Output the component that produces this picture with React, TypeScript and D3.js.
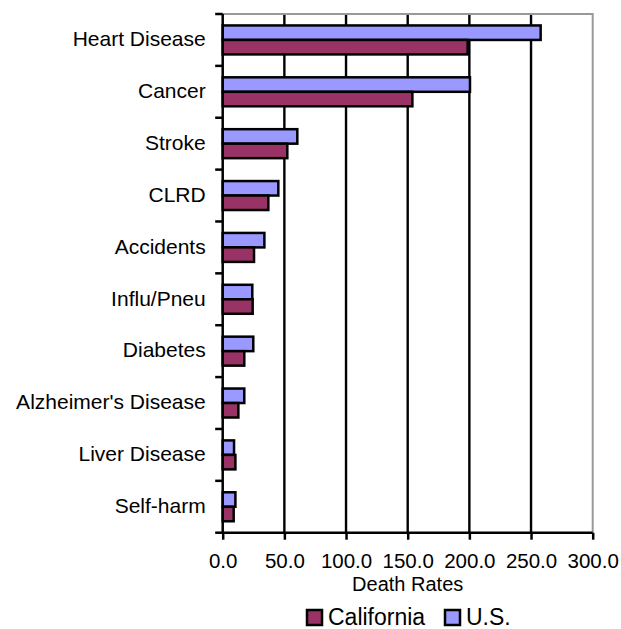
import React, { useEffect, useRef } from 'react';
import * as d3 from 'd3';

const categories = [
  'Heart Disease', 'Cancer', 'Stroke', 'CLRD', 'Accidents',
  'Influ/Pneu', 'Diabetes', "Alzheimer's Disease", 'Liver Disease', 'Self-harm',
];
const california = [198.6, 153.8, 52.4, 37.0, 25.4, 24.3, 17.5, 12.7, 10.3, 8.9];
const us = [257.8, 200.5, 60.5, 45.1, 33.8, 24.0, 24.8, 17.5, 9.2, 10.3];
const xTicks = [0, 50, 100, 150, 200, 250, 300];
const seriesNames = ['U.S.', 'California'];
const legendOrder = ['California', 'U.S.'];

const colors: Record<string, string> = { 'California': '#993366', 'U.S.': '#9999ff' };
const font = '"Liberation Sans", Arial, Helvetica, sans-serif';

function App() {
  const ref = useRef<SVGSVGElement>(null);

  useEffect(() => {
    const width = 621, height = 629;
    const margin = { top: 14, right: 28.3, bottom: 96.3, left: 222.7 };
    const innerW = width - margin.left - margin.right;
    const innerH = height - margin.top - margin.bottom;

    const root = d3.select(ref.current);
    root.selectAll('*').remove();
    const svg = root.append('g').attr('transform', `translate(${margin.left},${margin.top})`);

    const x = d3.scaleLinear().domain([0, 300]).range([0, innerW]);
    const y = d3.scaleBand().domain(categories).range([0, innerH]).padding(0);
    const inner = d3.scaleBand().domain(seriesNames).range([0, y.bandwidth()])
      .paddingInner(0).paddingOuter(0.79);

    // vertical gridlines
    svg.append('g').selectAll('line')
      .data(xTicks.filter(t => t > 0 && t < 300))
      .enter().append('line')
      .attr('x1', d => x(d)).attr('x2', d => x(d))
      .attr('y1', 0).attr('y2', innerH)
      .attr('stroke', '#000').attr('stroke-width', 2.4);

    // plot border top/right
    svg.append('path')
      .attr('d', `M0,0H${x(300)}V${innerH}`)
      .attr('fill', 'none').attr('stroke', '#999').attr('stroke-width', 2);

    // bars
    const rows = categories.map((c, i) => ({ c, values: { 'U.S.': us[i], 'California': california[i] } as Record<string, number> }));
    const groups = svg.append('g').selectAll('g')
      .data(rows).enter().append('g')
      .attr('transform', d => `translate(0,${y(d.c)})`);
    groups.selectAll('rect')
      .data(d => seriesNames.map(s => ({ s, v: d.values[s] })))
      .enter().append('rect')
      .attr('x', 0)
      .attr('y', d => inner(d.s)!)
      .attr('width', d => x(d.v))
      .attr('height', inner.bandwidth())
      .attr('fill', d => colors[d.s])
      .attr('stroke', '#000').attr('stroke-width', 2.5);

    // left axis with ticks at category boundaries
    const boundaries = d3.range(categories.length + 1).map(i => i * y.step());
    svg.append('g').selectAll('line').data(boundaries).enter().append('line')
      .attr('x1', -7.5).attr('x2', 0).attr('y1', d => d).attr('y2', d => d)
      .attr('stroke', '#000').attr('stroke-width', 2.5);
    svg.append('line').attr('x1', 0).attr('x2', 0).attr('y1', 0).attr('y2', innerH)
      .attr('stroke', '#000').attr('stroke-width', 2.5);

    svg.append('g').selectAll('text').data(categories).enter().append('text')
      .attr('x', -17).attr('y', d => y(d)! + y.bandwidth() / 2)
      .attr('dy', '0.3em')
      .attr('text-anchor', 'end')
      .attr('font-family', font).attr('font-size', 21)
      .text(d => d);

    // bottom axis
    const xAxis = svg.append('g').attr('transform', `translate(0,${innerH})`)
      .call(d3.axisBottom(x).tickValues(xTicks).tickSize(7).tickPadding(14)
        .tickFormat(d => d3.format('.1f')(d as number)));
    xAxis.select('.domain').attr('stroke', '#000').attr('stroke-width', 2.5)
      .attr('d', `M0,0H${innerW}`);
    xAxis.selectAll('.tick line').attr('stroke', '#000').attr('stroke-width', 2.5);
    xAxis.selectAll('.tick text').attr('font-family', font).attr('font-size', 20.5).attr('fill', '#000');

    svg.append('text')
      .attr('x', innerW / 2).attr('y', innerH + 58.3)
      .attr('text-anchor', 'middle')
      .attr('font-family', font).attr('font-size', 20)
      .text('Death Rates');

    // legend
    const legend = root.append('g').attr('transform', 'translate(307,610)');
    const offsets = [0, 138];
    legendOrder.forEach((name, i) => {
      const g = legend.append('g').attr('transform', `translate(${offsets[i]},0)`);
      g.append('rect').attr('x', 0).attr('y', 0).attr('width', 15).attr('height', 15)
        .attr('fill', colors[name]).attr('stroke', '#000').attr('stroke-width', 2.5);
      g.append('text').attr('x', 21).attr('y', 15)
        .attr('font-family', font).attr('font-size', 23)
        .text(name);
    });
  }, []);

  return (
    <svg ref={ref} width={621} height={629}
      style={{ position: 'absolute', left: 0, top: 0, background: '#fff' }} />
  );
}

export default App;
